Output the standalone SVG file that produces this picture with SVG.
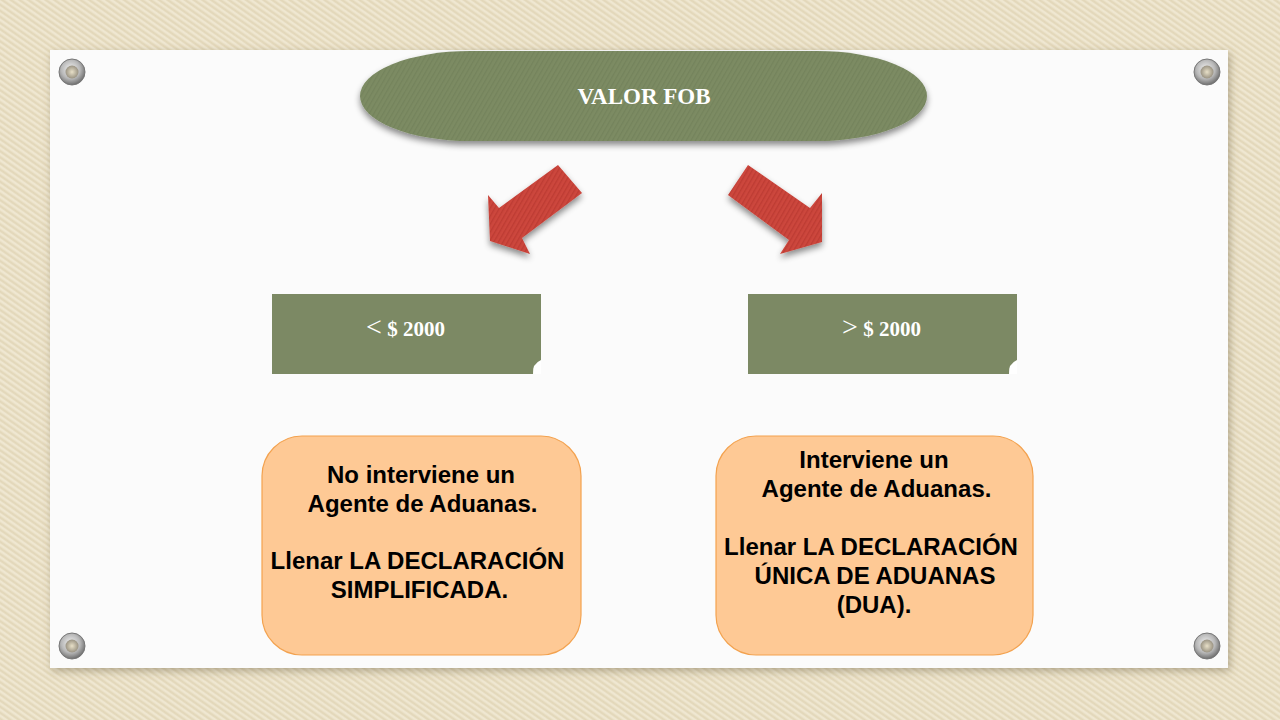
<svg xmlns="http://www.w3.org/2000/svg" width="1280" height="720" viewBox="0 0 1280 720">
  <defs>
    <pattern id="canvas" width="5" height="5" patternUnits="userSpaceOnUse" patternTransform="rotate(35)">
      <rect width="5" height="5" fill="#e9dfc5"/>
      <rect width="5" height="2" fill="#efe7d1"/>
      <rect y="3.5" width="5" height="0.8" fill="#dccfae"/>
    </pattern>
    <pattern id="greenTex" width="4" height="4" patternUnits="userSpaceOnUse" patternTransform="rotate(-60)">
      <rect width="4" height="4" fill="#7c8b63"/>
      <rect width="4" height="1.3" fill="#74835c"/>
    </pattern>
    <pattern id="redTex" width="4" height="4" patternUnits="userSpaceOnUse" patternTransform="rotate(-60)">
      <rect width="4" height="4" fill="#cc463c"/>
      <rect width="4" height="1.3" fill="#bd3c33"/>
    </pattern>
    <filter id="shadow" x="-10%" y="-20%" width="120%" height="150%">
      <feDropShadow dx="0" dy="4" stdDeviation="3" flood-color="#000" flood-opacity="0.45"/>
    </filter>
    <filter id="cardShadow" x="-5%" y="-5%" width="110%" height="110%">
      <feDropShadow dx="2" dy="3" stdDeviation="4" flood-color="#6b5f40" flood-opacity="0.45"/>
    </filter>
    <radialGradient id="grommet" cx="0.45" cy="0.4" r="0.6">
      <stop offset="0" stop-color="#f2f2f2"/>
      <stop offset="0.6" stop-color="#b8b8b8"/>
      <stop offset="1" stop-color="#6e6e6e"/>
    </radialGradient>
    <radialGradient id="hole" cx="0.5" cy="0.5" r="0.5">
      <stop offset="0" stop-color="#e8e0c8"/>
      <stop offset="1" stop-color="#9a9383"/>
    </radialGradient>
    <style>
      .fob { font-family: "Liberation Serif", "Times New Roman", serif; font-weight: bold; fill: #ffffff; }
      .body { font-family: "Liberation Sans", Arial, sans-serif; font-weight: bold; font-size: 24px; fill: #000000; text-anchor: middle; }
      .orange { fill: #fec995; stroke: #f3a24f; stroke-width: 1.2; }
      .greenBox { fill: #7c8964; }
      .arrow { fill: url(#redTex); filter: url(#shadow); }
    </style>
  </defs>

  <!-- background -->
  <rect width="1280" height="720" fill="url(#canvas)"/>
  <rect x="50" y="50" width="1178" height="618" fill="#fbfbfb" filter="url(#cardShadow)"/>

  <!-- grommets -->
  <g id="grommets">
    <circle cx="72" cy="72" r="13" fill="url(#grommet)" stroke="#777" stroke-width="1"/>
    <circle cx="72" cy="72" r="6.5" fill="url(#hole)"/>
    <circle cx="1207" cy="72" r="13" fill="url(#grommet)" stroke="#777" stroke-width="1"/>
    <circle cx="1207" cy="72" r="6.5" fill="url(#hole)"/>
    <circle cx="72" cy="646" r="13" fill="url(#grommet)" stroke="#777" stroke-width="1"/>
    <circle cx="72" cy="646" r="6.5" fill="url(#hole)"/>
    <circle cx="1207" cy="646" r="13" fill="url(#grommet)" stroke="#777" stroke-width="1"/>
    <circle cx="1207" cy="646" r="6.5" fill="url(#hole)"/>
  </g>

  <!-- connectors -->
  <g id="connectors">
    <polygon class="arrow" points="558,165 582,193 522,238 530,254 490,241 488,195 499,208"/>
    <polygon class="arrow" points="748,165 810,208 822,193 822,242 780,254 789,240 728,195"/>
  </g>

  <g id="node-valor-fob">
    <rect x="360" y="51" width="567" height="90" rx="110" ry="45" fill="url(#greenTex)" filter="url(#shadow)"/>
    <text class="fob" x="644" y="104" font-size="23" text-anchor="middle">VALOR FOB</text>
  </g>

  <g id="node-menor">
    <rect class="greenBox" x="272" y="294" width="269" height="80"/>
    <path d="M541,360 Q532,364 533,374 L541,374 Z" fill="#ffffff"/>
    <text class="fob" x="405.5" y="336" text-anchor="middle"><tspan font-weight="normal" font-size="28">&lt;</tspan><tspan font-size="21"> $ 2000</tspan></text>
  </g>

  <g id="node-mayor">
    <rect class="greenBox" x="748" y="294" width="269" height="80"/>
    <path d="M1017,360 Q1008,364 1009,374 L1017,374 Z" fill="#ffffff"/>
    <text class="fob" x="881.5" y="336" text-anchor="middle"><tspan font-weight="normal" font-size="28">&gt;</tspan><tspan font-size="21"> $ 2000</tspan></text>
  </g>

  <g id="node-simplificada">
    <rect class="orange" x="262" y="436" width="319" height="219" rx="40" ry="40"/>
    <text class="body" x="421" y="483">No interviene un</text>
    <text class="body" x="422.5" y="512">Agente de Aduanas.</text>
    <text class="body" x="417.5" y="569">Llenar LA DECLARACIÓN</text>
    <text class="body" x="419.5" y="598">SIMPLIFICADA.</text>
  </g>

  <g id="node-dua">
    <rect class="orange" x="716" y="436" width="317" height="219" rx="40" ry="40"/>
    <text class="body" x="874" y="468">Interviene un</text>
    <text class="body" x="876.5" y="497">Agente de Aduanas.</text>
    <text class="body" x="871" y="555">Llenar LA DECLARACIÓN</text>
    <text class="body" x="875" y="584">ÚNICA DE ADUANAS</text>
    <text class="body" x="874" y="613">(DUA).</text>
  </g>
</svg>
